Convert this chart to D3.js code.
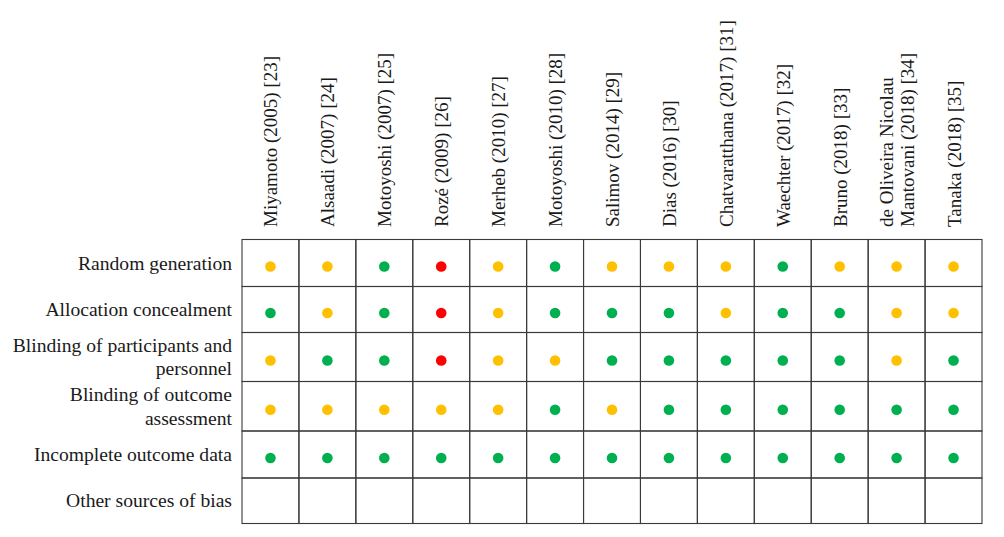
<!DOCTYPE html>
<html>
<head>
<meta charset="utf-8">
<script src="https://cdn.jsdelivr.net/npm/d3@7"></script>
<style>
  body { margin: 0; background: #fff; }
  svg text { font-family: "Palatino Linotype", "Book Antiqua", Palatino, "Liberation Serif", serif; fill: #1a1a1a; }
</style>
</head>
<body>
<div id="chart"></div>
<script>
// studies (columns), multi-line labels split on '\n'
const studies = [
    'Miyamoto (2005) [23]',
    'Alsaadi (2007) [24]',
    'Motoyoshi (2007) [25]',
    'Rozé (2009) [26]',
    'Merheb (2010) [27]',
    'Motoyoshi (2010) [28]',
    'Salimov (2014) [29]',
    'Dias (2016) [30]',
    'Chatvaratthana (2017) [31]',
    'Waechter (2017) [32]',
    'Bruno (2018) [33]',
    'de Oliveira Nicolau\nMantovani (2018) [34]',
    'Tanaka (2018) [35]'
];

const domains = [
    'Random generation',
    'Allocation concealment',
    'Blinding of participants and\npersonnel',
    'Blinding of outcome\nassessment',
    'Incomplete outcome data',
    'Other sources of bias'
];

// L = low risk, U = unclear, H = high risk, '' = not rated
const randomGeneration      = ['U','U','L','H','U','L','U','U','U','L','U','U','U'];
const allocationConcealment = ['L','U','L','H','U','L','L','L','U','L','L','U','U'];
const blindingParticipants  = ['U','L','L','H','U','U','L','L','L','L','L','U','L'];
const blindingOutcome       = ['U','U','U','U','U','L','U','L','L','L','L','L','L'];
const incompleteData        = ['L','L','L','L','L','L','L','L','L','L','L','L','L'];
const otherBias             = ['','','','','','','','','','','','',''];

const ratings = [randomGeneration, allocationConcealment, blindingParticipants,
                 blindingOutcome, incompleteData, otherBias];

const colorMap = { L: '#00B050', U: '#FFC000', H: '#FF0000' };

// layout
const width = 1004, height = 537;
const gridLeft = 242, gridRight = 982, gridTop = 239.5;
const rowHeights = [47, 46, 49, 49.5, 47, 45.5];
const rowTops = [gridTop].concat(Array.from(d3.cumsum(rowHeights), v => gridTop + v));

const svg = d3.select('#chart').append('svg')
    .attr('width', width)
    .attr('height', height);

const xScale = d3.scaleBand()
    .domain(studies)
    .range([gridLeft, gridRight])
    .paddingInner(0);

const yTop = d3.scaleOrdinal().domain(domains).range(rowTops.slice(0, -1));
const yMid = d => yTop(d) + rowHeights[domains.indexOf(d)] / 2;

// grid cells
const cells = [];
domains.forEach((dom, i) => {
    studies.forEach((st, j) => {
        cells.push({ dom: dom, st: st, r: ratings[i][j], h: rowHeights[i] });
    });
});

svg.append('g')
    .selectAll('rect')
    .data(cells)
    .join('rect')
    .attr('x', d => xScale(d.st))
    .attr('y', d => yTop(d.dom))
    .attr('width', xScale.bandwidth())
    .attr('height', d => d.h)
    .attr('fill', 'none')
    .attr('stroke', '#3a3a3a')
    .attr('stroke-width', 1.1);

// dots
svg.append('g')
    .selectAll('circle')
    .data(cells.filter(d => d.r))
    .join('circle')
    .attr('cx', d => xScale(d.st) + xScale.bandwidth() / 2)
    .attr('cy', d => yMid(d.dom) + 3.5)
    .attr('r', 5.3)
    .attr('fill', d => colorMap[d.r]);

// row labels
const lineGapRow = 23.5;
svg.append('g')
    .selectAll('text')
    .data(domains)
    .join('text')
    .attr('text-anchor', 'end')
    .style('font-size', '19.6px')
    .each(function(d) {
        const lines = d.split('\n');
        const base = yMid(d) + 6.5;
        d3.select(this).selectAll('tspan')
            .data(lines)
            .join('tspan')
            .attr('x', 232)
            .attr('y', (l, i) => base + (i - (lines.length - 1) / 2) * lineGapRow)
            .text(l => l);
    });

// column labels, rotated
const lineGapCol = 20.5;
svg.append('g')
    .selectAll('text')
    .data(studies)
    .join('text')
    .style('font-size', '19px')
    .attr('text-anchor', 'start')
    .attr('transform', d => `translate(${xScale(d) + xScale.bandwidth() / 2}, 227) rotate(-90)`)
    .each(function(d) {
        const lines = d.split('\n');
        d3.select(this).selectAll('tspan')
            .data(lines)
            .join('tspan')
            .attr('x', 0)
            .attr('y', (l, i) => 7 + (i - (lines.length - 1) / 2) * lineGapCol)
            .text(l => l);
    });
</script>
</body>
</html>
